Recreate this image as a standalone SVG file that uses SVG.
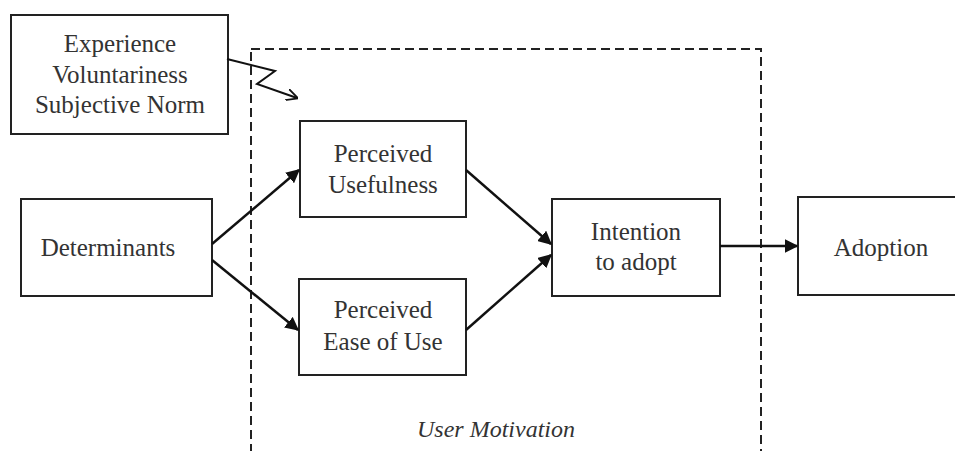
<svg xmlns="http://www.w3.org/2000/svg" width="955" height="451" viewBox="0 0 955 451">
<style>
.box{fill:#fff;stroke:#222;stroke-width:2}
.t{font-family:'Liberation Serif','DejaVu Serif',serif;font-size:25px;fill:#333;text-anchor:middle}
.ti{font-family:'Liberation Serif','DejaVu Serif',serif;font-size:24px;font-style:italic;fill:#333;text-anchor:middle}
.c{fill:none;stroke:#111;stroke-width:2.5}
.dash{fill:none;stroke:#222;stroke-width:2;stroke-dasharray:9 5}
</style>
<defs>
<marker id="ah" viewBox="0 0 10 10" refX="9" refY="5" markerWidth="5.5" markerHeight="5.5" orient="auto" markerUnits="strokeWidth">
<path d="M0,0 L10,5 L0,10 Z" fill="#111"/>
</marker>
<marker id="oh" viewBox="0 0 10 10" refX="9" refY="5" markerWidth="6" markerHeight="6" orient="auto" markerUnits="strokeWidth">
<path d="M0,0 L10,5 L0,10" fill="none" stroke="#111" stroke-width="1.5"/>
</marker>
</defs>
<rect width="955" height="451" fill="#fff"/>
<g id="user-motivation">
<rect class="dash" x="251" y="49" width="510" height="420"/>
<text class="ti" x="496" y="437">User Motivation</text>
</g>
<g id="moderators">
<rect class="box" x="11" y="15" width="217" height="119"/>
<text class="t" x="120" y="52">Experience</text>
<text class="t" x="120" y="83">Voluntariness</text>
<text class="t" x="120" y="113">Subjective Norm</text>
</g>
<g id="determinants">
<rect class="box" x="21" y="199" width="191" height="97"/>
<text class="t" x="108" y="256">Determinants</text>
</g>
<g id="usefulness">
<rect class="box" x="300" y="121" width="166" height="96"/>
<text class="t" x="383" y="162">Perceived</text>
<text class="t" x="383" y="193">Usefulness</text>
</g>
<g id="ease">
<rect class="box" x="299" y="279" width="167" height="96"/>
<text class="t" x="383" y="318">Perceived</text>
<text class="t" x="383" y="350">Ease of Use</text>
</g>
<g id="intention">
<rect class="box" x="552" y="199" width="168" height="97"/>
<text class="t" x="636" y="240">Intention</text>
<text class="t" x="636" y="270">to adopt</text>
</g>
<g id="adoption">
<rect class="box" x="798" y="197" width="166" height="98"/>
<text class="t" x="881" y="256">Adoption</text>
</g>
<g id="connectors">
<line class="c" x1="212" y1="244" x2="299" y2="170" marker-end="url(#ah)"/>
<line class="c" x1="212" y1="260" x2="298" y2="330" marker-end="url(#ah)"/>
<line class="c" x1="466" y1="170" x2="551" y2="244" marker-end="url(#ah)"/>
<line class="c" x1="466" y1="330" x2="551" y2="255" marker-end="url(#ah)"/>
<line class="c" x1="720" y1="246" x2="797" y2="246" marker-end="url(#ah)"/>
<polyline fill="none" stroke="#111" stroke-width="2" points="227,59 275,71 257,84 297,98" marker-end="url(#oh)"/>
</g>
</svg>
